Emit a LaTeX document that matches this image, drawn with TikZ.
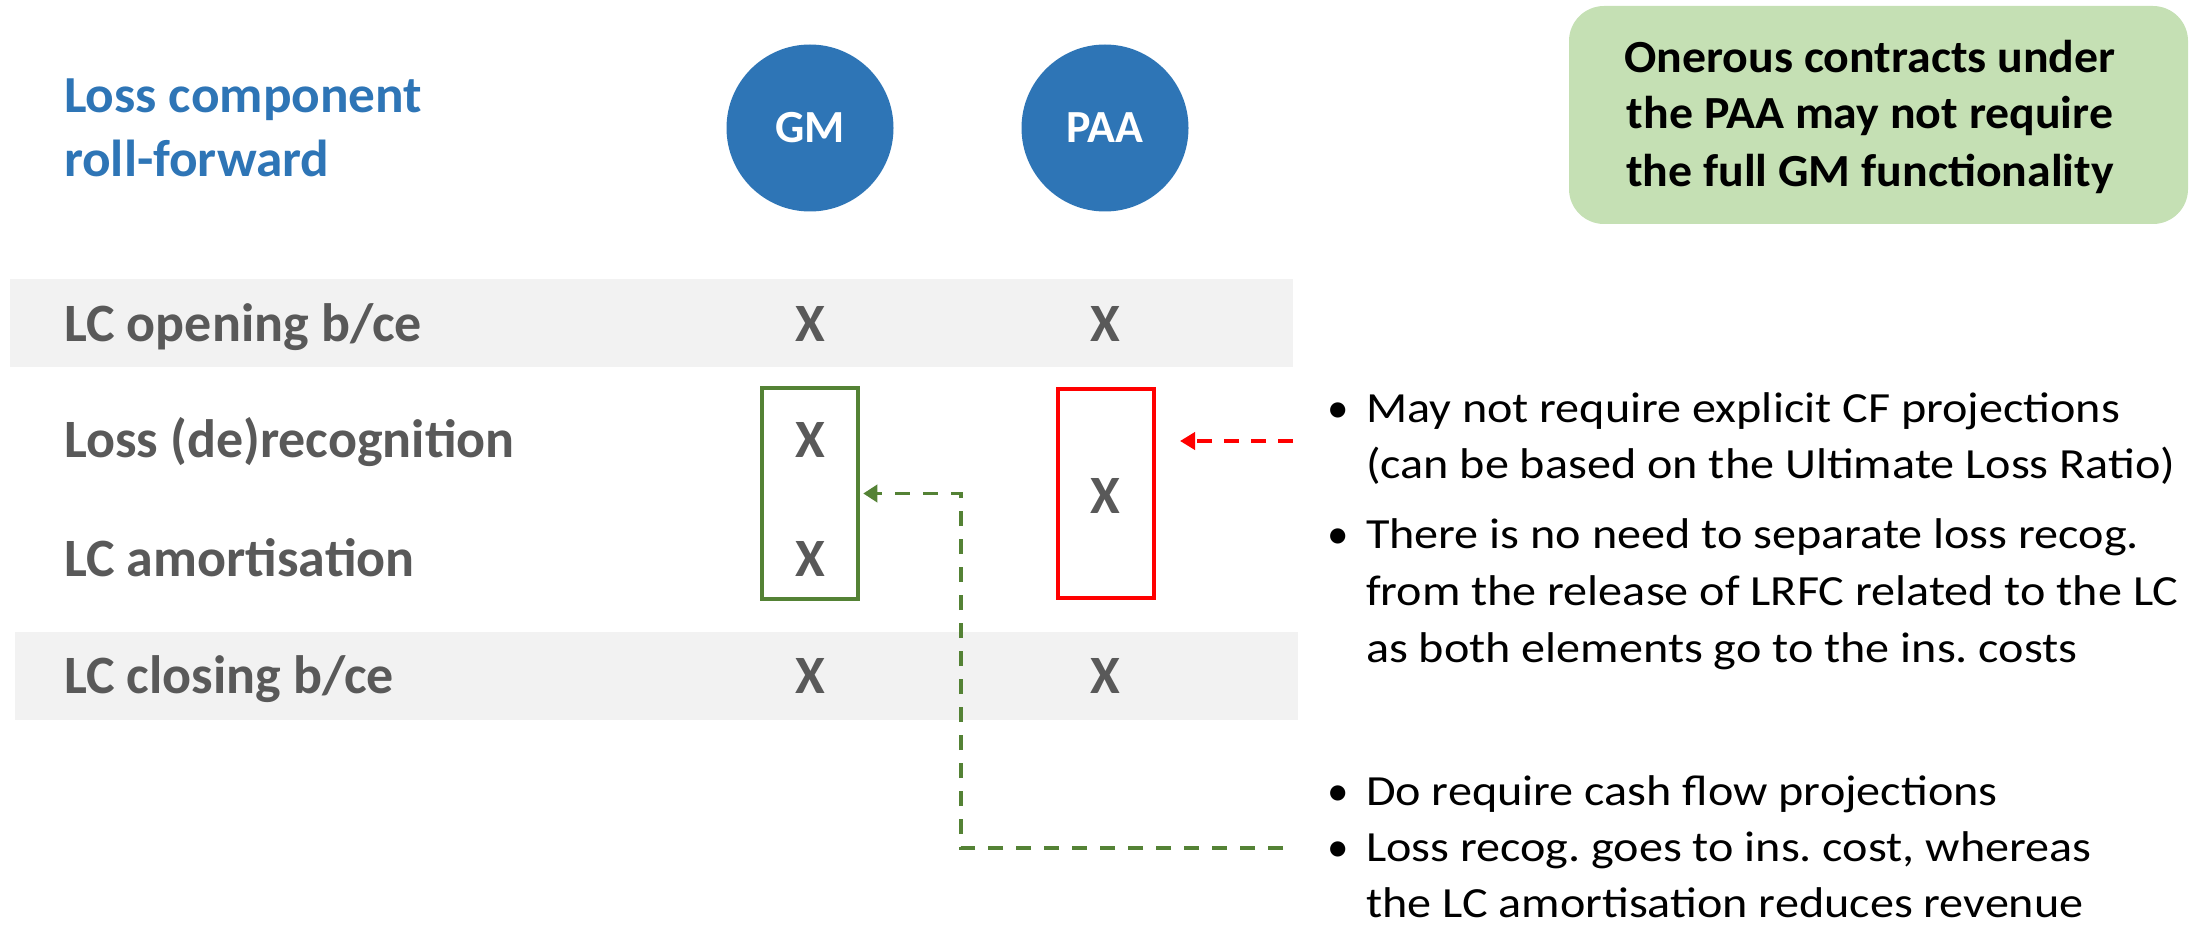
\documentclass[tikz,border=0pt]{standalone}
\usepackage{fontspec}
\setmainfont{Carlito}
\newfontfamily\widefont[FakeStretch=1.12]{Carlito}
\newfontfamily\notefont[FakeStretch=1.04]{Carlito}
\newfontfamily\titlefont[FakeStretch=1.025]{Carlito}
\frenchspacing
\usetikzlibrary{arrows.meta}
\definecolor{titleblue}{HTML}{2E75B6}
\definecolor{labelgray}{HTML}{595959}
\definecolor{bandgray}{HTML}{F2F2F2}
\definecolor{notegreen}{HTML}{C5E0B4}
\definecolor{lcgreen}{HTML}{548235}
\definecolor{lcred}{HTML}{FF0000}
\tikzset{
  txt/.style={inner sep=0pt, outer sep=0pt},
  titletxt/.style={txt, anchor=base west, text=titleblue, font=\titlefont\fontsize{52}{62}\selectfont\bfseries},
  rowtxt/.style={txt, anchor=base west, text=labelgray, font=\fontsize{54}{64}\selectfont\bfseries},
  xmark/.style={txt, anchor=base, text=labelgray, font=\fontsize{54}{64}\selectfont\bfseries},
  method/.style={circle, fill=titleblue, minimum size=167pt, inner sep=0pt, text=white, font=\fontsize{46}{55}\selectfont\bfseries},
  band/.style={fill=bandgray, draw=none, inner sep=0pt, minimum width=1283pt, minimum height=88pt},
  notebox/.style={fill=notegreen, draw=none, rounded corners=35pt, inner sep=0pt, minimum width=619pt, minimum height=218pt},
  notetxt/.style={txt, anchor=base, text=black, font=\notefont\fontsize{46}{57}\selectfont\bfseries},
  bullettxt/.style={txt, anchor=base west, text=black, font=\widefont\fontsize{43}{56}\selectfont},
  bulletdot/.style={txt, anchor=base, text=black, font=\fontsize{43}{56}\selectfont},
  gmbox/.style={draw=lcgreen, line width=4.5pt, inner sep=0pt, minimum width=96pt, minimum height=211pt},
  paabox/.style={draw=lcred, line width=4pt, inner sep=0pt, minimum width=96pt, minimum height=209pt},
  redarrow/.style={draw=lcred, line width=4pt, dash pattern=on 15pt off 12pt, -{Triangle[length=15pt,width=17pt]}},
  greenarrow/.style={draw=lcgreen, line width=3.5pt, dash pattern=on 15pt off 13pt, -{Triangle[length=14pt,width=17pt]}}
}
\begin{document}
\begin{tikzpicture}[x=1pt,y=-1pt]
\useasboundingbox (0,0) rectangle (2201,928);

% background bands
\node[band] (band1) at (651.5,323) {};
\node[band] (band2) at (656.5,676) {};

% title
\node[titletxt] (title1) at (64,113) {Loss component};
\node[titletxt] (title2) at (64,177) {roll-forward};

% method circles
\node[method] (gm) at (810,128) {GM};
\node[method] (paa) at (1105,128) {PAA};

% note box
\node[notebox] (note) at (1878.5,115) {};
\node[notetxt] (note1) at (1870,73) {Onerous contracts under};
\node[notetxt] (note2) at (1870,129) {the PAA may not require};
\node[notetxt] (note3) at (1870,187) {the full GM functionality};

% row labels
\node[rowtxt] (r1) at (64,341) {LC opening b/ce};
\node[rowtxt] (r2) at (64,457) {Loss (de)recognition};
\node[rowtxt] (r3) at (64,576) {LC amortisation};
\node[rowtxt] (r4) at (64,693) {LC closing b/ce};

% X marks
\node[xmark] (x11) at (810,341) {X};
\node[xmark] (x12) at (1105,341) {X};
\node[xmark] (x21) at (810,457) {X};
\node[xmark] (x31) at (810,576) {X};
\node[xmark] (x2p) at (1105,513) {X};
\node[xmark] (x41) at (810,693) {X};
\node[xmark] (x42) at (1105,693) {X};

% highlight boxes
\node[gmbox] (gmbox) at (810,493.5) {};
\node[paabox] (paabox) at (1106,493.5) {};

% bullets, first group
\node[bulletdot] (d1) at (1338,422) {•};
\node[bullettxt] (b1a) at (1366,422) {May not require explicit CF projections};
\node[bullettxt] (b1b) at (1366,478) {(can be based on the Ultimate Loss Ratio)};
\node[bulletdot] (d2) at (1338,548) {•};
\node[bullettxt] (b2a) at (1366,548) {There is no need to separate loss recog.};
\node[bullettxt] (b2b) at (1366,605) {from the release of LRFC related to the LC};
\node[bullettxt] (b2c) at (1366,662) {as both elements go to the ins. costs};

% bullets, second group
\node[bulletdot] (d3) at (1338,805) {•};
\node[bullettxt] (b3a) at (1366,805) {Do require cash flow projections};
\node[bulletdot] (d4) at (1338,861) {•};
\node[bullettxt] (b4a) at (1366,861) {Loss recog. goes to ins. cost, whereas};
\node[bullettxt] (b4b) at (1366,917) {the LC amortisation reduces revenue};

% connectors
\coordinate (redtail) at (1293,441);
\coordinate (redtip) at (1180,441);
\draw[redarrow] (redtail) -- (redtip);

\coordinate (greentail) at (1283,848);
\coordinate (greencorner) at (961,493.5);
\draw[greenarrow] (greentail) -| (greencorner) -- ([xshift=3pt]gmbox.east);
\end{tikzpicture}
\end{document}
